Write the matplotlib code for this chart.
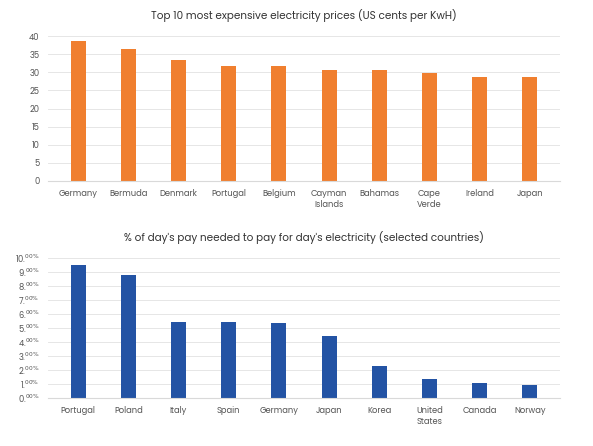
import matplotlib.pyplot as plt

# Top chart data
price_countries = ["Germany", "Bermuda", "Denmark", "Portugal", "Belgium",
                   "Cayman\nIslands", "Bahamas", "Cape\nVerde", "Ireland", "Japan"]
price_values = [38.5, 36.5, 33.5, 31.8, 31.8, 30.6, 30.6, 29.8, 28.7, 28.7]

# Bottom chart data
pay_countries = ["Portugal", "Poland", "Italy", "Spain", "Germany", "Japan",
                 "Korea", "United\nStates", "Canada", "Norway"]
pay_values = [9.5, 8.8, 5.45, 5.45, 5.35, 4.4, 2.3, 1.35, 1.05, 0.95]

plt.rcParams['font.family'] = ['Poppins', 'Lato', 'DejaVu Sans']
text_col = '#555555'

fig = plt.figure(figsize=(5.93, 4.46), dpi=100)
ax1 = fig.add_axes([48/593, 1 - 181/446, 512/593, 145/446])
ax2 = fig.add_axes([48/593, 1 - 398/446, 512/593, 140/446])

ax1.bar(range(len(price_values)), price_values, width=0.3, color='#F07F2F')
ax1.set_ylim(0, 40)
ax1.set_yticks(range(0, 41, 5))
ax1.set_title("Top 10 most expensive electricity prices (US cents per KwH)",
              fontsize=7.5, color='#333333', pad=12)

ax2.bar(range(len(pay_values)), pay_values, width=0.3, color='#2353A4')
ax2.set_ylim(0, 10)
ax2.set_yticks(range(0, 11))
ax2.set_yticklabels([str(i) + r".$^{00\%}$" for i in range(11)])
ax2.set_title("% of day's pay needed to pay for day's electricity (selected countries)",
              fontsize=7.5, color='#333333', pad=12)

for ax, labels in ((ax1, price_countries), (ax2, pay_countries)):
    ax.set_xticks(range(len(labels)))
    ax.set_xticklabels(labels, va='top', ha='center')
    ax.set_xlim(-0.6, 9.6)
    ax.grid(axis='y', color='#e6e6e6', linewidth=0.7)
    ax.set_axisbelow(True)
    for s in ('top', 'right', 'left'):
        ax.spines[s].set_visible(False)
    ax.spines['bottom'].set_color('#d9d9d9')
    ax.tick_params(length=0, labelsize=6, colors=text_col, pad=6)

fig.savefig("out.png", dpi=100)
